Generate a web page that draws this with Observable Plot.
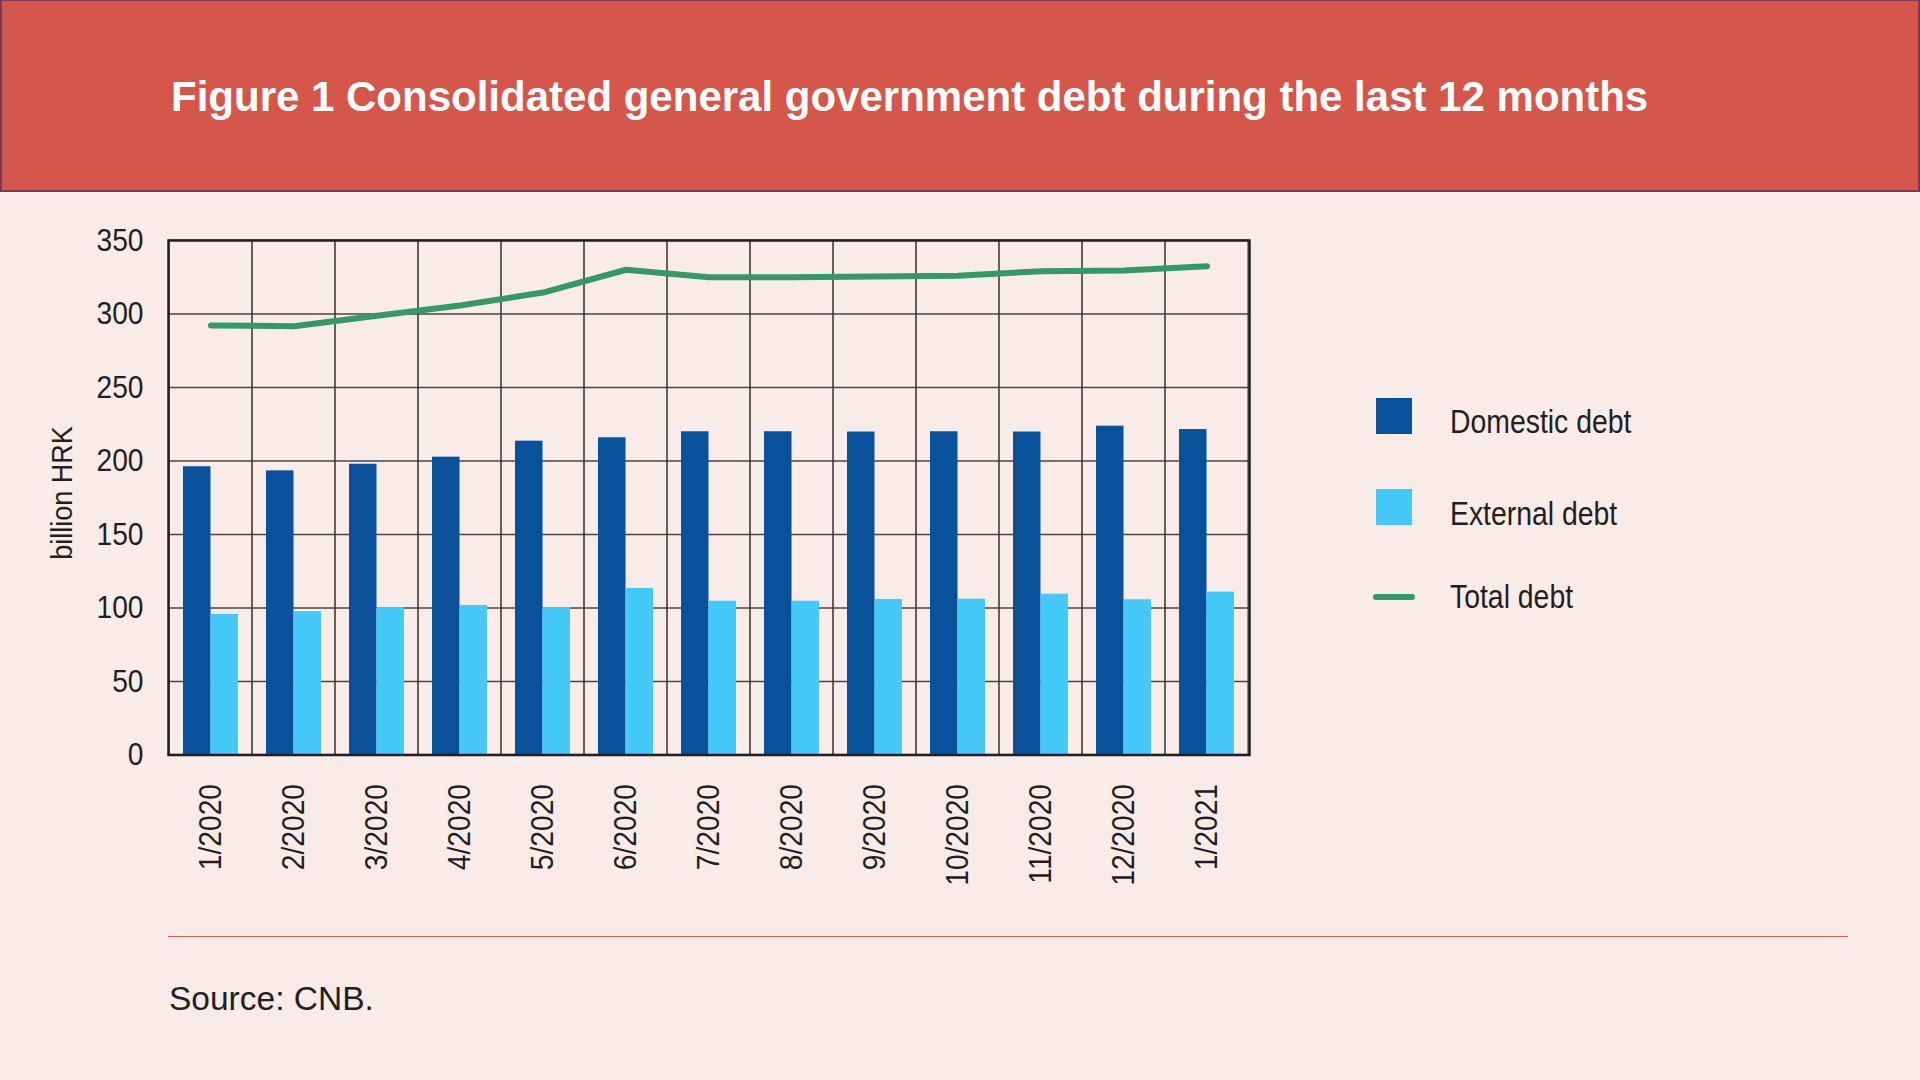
<!DOCTYPE html>
<html>
<head>
<meta charset="utf-8">
<script src="https://cdn.jsdelivr.net/npm/d3@7"></script>
<script src="https://cdn.jsdelivr.net/npm/@observablehq/plot@0.6"></script>
<style>
  html, body { margin: 0; padding: 0; }
  body { width: 1920px; height: 1080px; background: #f9ebe8; position: relative; overflow: hidden;
         font-family: "Liberation Sans", Arial, Helvetica, sans-serif; color: #231f20; }
  #header { position: absolute; left: 0; top: 0; width: 1916px; height: 189px; background: #d5564a;
            border: 2px solid #7d3a58; border-top-width: 1px; }
  #title { position: absolute; left: 169px; top: 75px; font-size: 42px; line-height: 42px; font-weight: bold;
           color: #ffffff; white-space: nowrap; }
  #chart { position: absolute; left: 0; top: 192px; }
  #ylabel { position: absolute; left: -38px; top: 478px; width: 200px; height: 30px; line-height: 30px;
            font-size: 30px; text-align: center; transform: rotate(-90deg) scaleX(0.9); transform-origin: 50% 50%; white-space: nowrap; }
  .leg-text { position: absolute; left: 1450px; font-size: 33px; line-height: 33px; white-space: nowrap;
              transform: scaleX(0.86); transform-origin: 0 50%; }
  .leg-sw { position: absolute; left: 1376px; width: 36px; height: 36px; }
  #leg-line { position: absolute; left: 1373px; top: 594px; width: 42px; height: 6px; border-radius: 3px; background: #339966; }
  #sep { position: absolute; left: 168px; top: 936px; width: 1680px; height: 1px; background: #e25c4c; }
  #source { position: absolute; left: 169px; top: 982px; font-size: 33.5px; line-height: 33.5px; white-space: nowrap; }
</style>
</head>
<body>
<div id="header"><div id="title">Figure 1 Consolidated general government debt during the last 12 months</div></div>
<div id="chart"></div>
<div id="ylabel">billion HRK</div>
<div class="leg-sw" style="top:398px;background:#0a519c;"></div>
<div class="leg-text" style="top:405px;">Domestic debt</div>
<div class="leg-sw" style="top:489px;background:#45c9f6;"></div>
<div class="leg-text" style="top:497px;">External debt</div>
<div id="leg-line"></div>
<div class="leg-text" style="top:580px;">Total debt</div>
<div id="sep"></div>
<div id="source">Source: CNB.</div>
<script>
const months = ["1/2020","2/2020","3/2020","4/2020","5/2020","6/2020","7/2020","8/2020","9/2020","10/2020","11/2020","12/2020","1/2021"];
const domestic = [196.1, 193.3, 197.8, 202.6, 213.5, 215.8, 219.9, 219.9, 219.7, 219.9, 219.7, 223.7, 221.4];
const external = [95.6, 97.6, 100.3, 101.7, 100.3, 113.3, 104.6, 104.6, 105.8, 106.0, 109.4, 105.6, 110.8];
const total = [292.2, 291.7, 298.8, 305.8, 314.6, 330.1, 325.0, 325.0, 325.5, 326.0, 329.1, 329.6, 332.5];
const yTicks = [0, 50, 100, 150, 200, 250, 300, 350];
const yGrid = [50, 100, 150, 200, 250, 300];

const domData = months.map((m, i) => ({month: m, value: domestic[i]}));
const extData = months.map((m, i) => ({month: m, value: external[i]}));
const totData = months.map((m, i) => ({month: m, value: total[i]}));

const gridColor = "#3a3232";
const chart = Plot.plot({
  width: 1260,
  height: 700,
  marginLeft: 168,
  marginRight: 11,
  marginTop: 48,
  marginBottom: 137.5,
  style: {background: "transparent", fontSize: "32px", fontFamily: "'Liberation Sans', Arial, Helvetica, sans-serif", color: "#231f20"},
  x: {domain: months, type: "band", padding: 0, label: null},
  y: {domain: [0, 350], label: null},
  marks: [
    Plot.barY(months, {x: d => d, y1: 0, y2: 350, fill: "none", stroke: gridColor, strokeWidth: 1.2, strokeOpacity: 0.85}),
    Plot.ruleY(yGrid, {stroke: gridColor, strokeWidth: 1.4, strokeOpacity: 0.9}),
    Plot.barY(domData, {x: "month", y: "value", fill: "#0a519c", insetLeft: 14, insetRight: 41.5}),
    Plot.barY(extData, {x: "month", y: "value", fill: "#45c9f6", insetLeft: 41.5, insetRight: 14}),
    Plot.lineY(totData, {x: "month", y: "value", stroke: "#339966", strokeWidth: 6, strokeLinecap: "round", strokeLinejoin: "round"}),
    Plot.frame({stroke: "#231f20", strokeWidth: 2.5}),
    Plot.axisY({ticks: yTicks, tickSize: 0, tickPadding: 25, label: null, fill: "#231f20"}),
    Plot.axisX({tickRotate: -90, tickSize: 0, tickPadding: 29, label: null, fill: "#231f20"})
  ]
});
document.getElementById("chart").appendChild(chart);
// condensed look of the axis lettering
chart.querySelectorAll('g[aria-label="y-axis tick label"] text, g[aria-label="x-axis tick label"] text').forEach(t => {
  const len = t.getComputedTextLength();
  if (len > 0) {
    t.setAttribute("textLength", (len * 0.88).toFixed(2));
    t.setAttribute("lengthAdjust", "spacingAndGlyphs");
  }
});
</script>
</body>
</html>
